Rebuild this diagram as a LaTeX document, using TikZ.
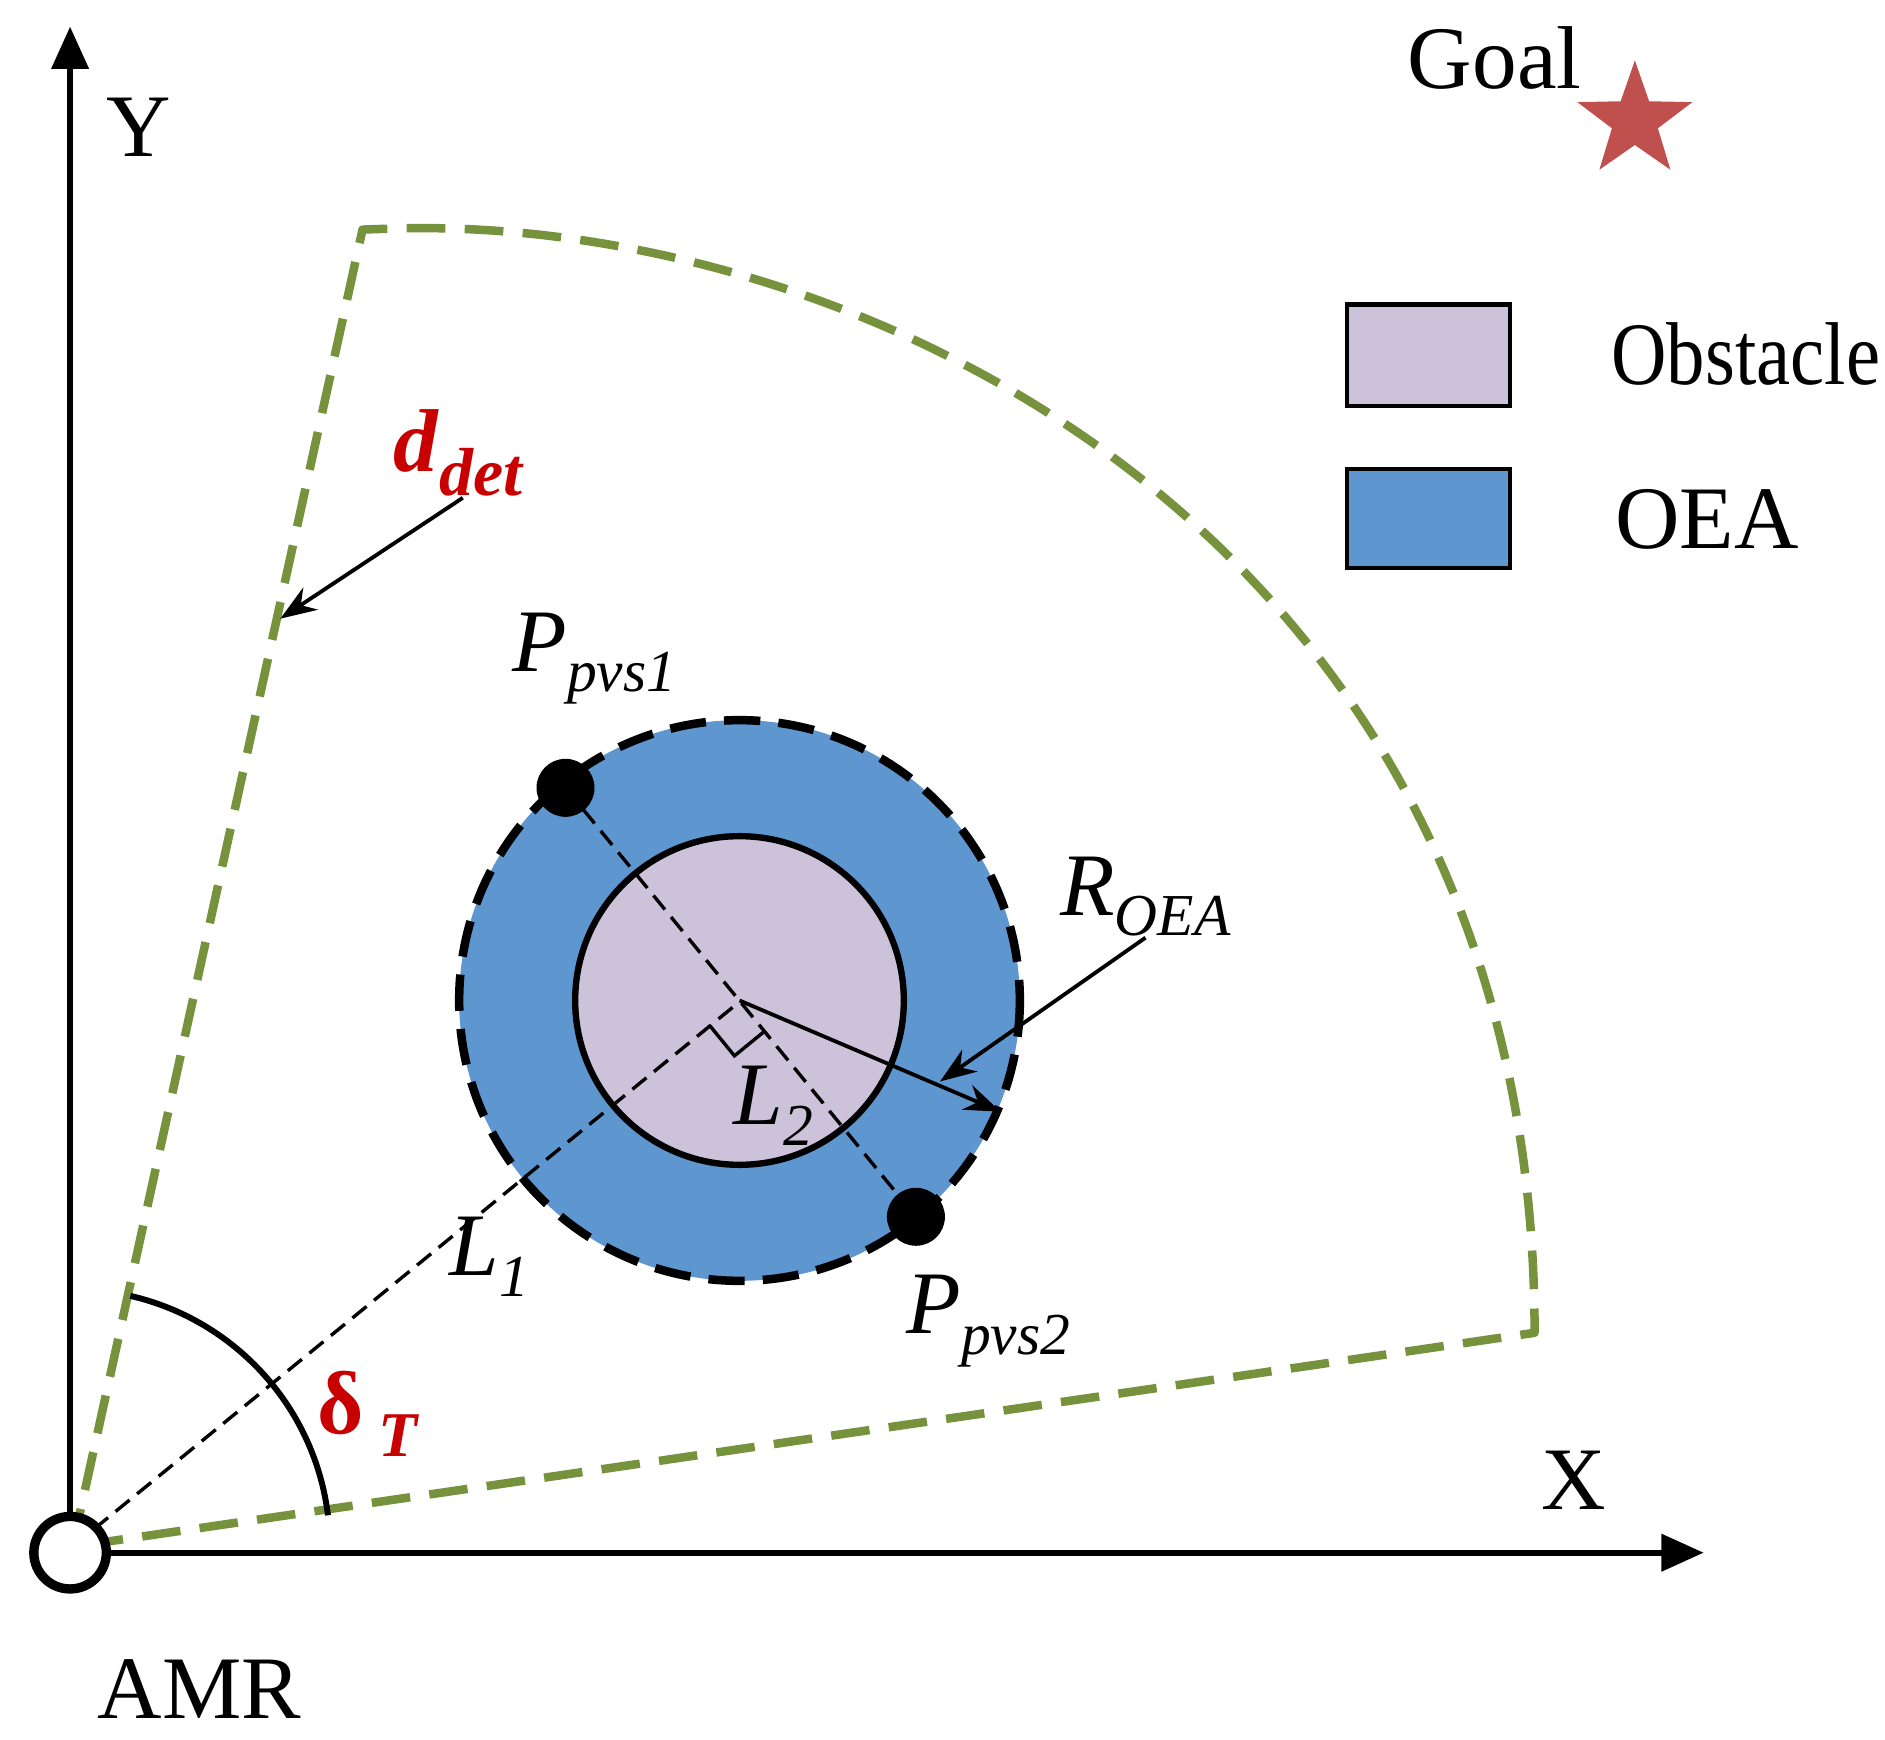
\documentclass[tikz,border=0pt]{standalone}
\usepackage{fontspec}
\setmainfont{Liberation Serif}
\usetikzlibrary{arrows.meta,calc,shapes.geometric}
\definecolor{gr}{RGB}{118,146,60}
\definecolor{oea}{RGB}{94,150,208}
\definecolor{obs}{RGB}{204,194,218}
\definecolor{stc}{RGB}{192,80,77}
\definecolor{rd}{RGB}{200,0,0}
\newcommand{\mysb}[2]{\textit{#1}{\fontsize{14}{14}\selectfont\raisebox{-0.35em}{\textit{#2}}}}
\begin{document}
\begin{tikzpicture}[x=0.01cm,y=-0.01cm,
  lbl/.style={font=\fontsize{21}{25}\selectfont, inner sep=0},
  thin dash/.style={line width=0.8pt, dash pattern=on 0.15cm off 0.08cm},
  ptr/.style={line width=0.9pt,-{Stealth[length=0.3cm,width=0.22cm]}}]
\useasboundingbox (0,0) rectangle (1560,1440);
% sector
\coordinate (o) at (60,1280);
\coordinate (c1) at (300,190);
\coordinate (c2) at (1270,1103);
\draw[gr, line width=2pt, dash pattern=on 0.32cm off 0.16cm, line join=round]
  (o) -- (c1) -- (330,189) .. controls (720,180) and (1270,450) .. (c2) -- cycle;
% OEA
\coordinate (cen) at (612,828);
\fill[oea] (cen) circle (232);
\draw[line width=2pt, dash pattern=on 0.3cm off 0.15cm] (cen) circle (232);
\draw[fill=obs, line width=1.5pt] (cen) circle (136);
% points and lines
\coordinate (p1) at (468,652);
\coordinate (p2) at (758,1007);
\coordinate (ft) at ($(p1)!(o)!(p2)$);
\draw[thin dash] (p1) -- (p2);
\draw[thin dash] (o) -- (ft);
\coordinate (sqa) at ($(ft)!0.32cm!(o)$);
\coordinate (sqb) at ($(ft)!0.32cm!(p2)$);
\draw[line width=0.8pt] (sqa) -- ($(sqa)+(sqb)-(ft)$) -- (sqb);
\fill (p1) circle (24);
\fill (p2) circle (24);
\draw[ptr] (cen) -- (828,920);
% axes
\draw[line width=1.5pt, -{Triangle[length=0.35cm,width=0.3cm]}] (58,1285) -- (58,22) coordinate (ytop);
\draw[line width=1.5pt, -{Triangle[length=0.35cm,width=0.3cm]}] (58,1285) -- (1410,1285) coordinate (xend);
\draw[line width=2.2pt, fill=white] (58,1285) circle (30);
% angle
\draw[line width=1.4pt] (o) ++(-7:213) arc[start angle=-7, end angle=-77, radius=213];
% labels
\node[lbl] (Y) at (115,105) {Y};
\node[lbl] (X) at (1302,1225) {X};
\node[lbl] (AMR) at (165,1398) {AMR};
\node[lbl] (goal) at (1237,48) {Goal};
\node[star, star points=5, star point ratio=2.5, fill=stc, minimum size=1.0cm, inner sep=0] (star) at (1353,100) {};
\node[draw, fill=obs, line width=1pt, minimum width=1.35cm, minimum height=0.84cm, inner sep=0] (lo) at (1182,294) {};
\node[draw, fill=oea, line width=1pt, minimum width=1.35cm, minimum height=0.82cm, inner sep=0] (le) at (1182,429) {};
\node[lbl, anchor=west] (to) at (1333,293) {\scalebox{0.86}[1]{Obstacle}};
\node[lbl, anchor=west] (te) at (1336,430) {OEA};
\node[lbl, text=rd] (dd) at (380,375) {\textbf{\textit{d}}{\fontsize{16}{16}\selectfont\raisebox{-0.35em}{\textbf{\textit{det}}}}};
\coordinate (dda) at (383,412);
\draw[ptr] (dda) -- (232,512);
\node[lbl] (p1l) at (492,545) {\mysb{P}{pvs1}};
\node[lbl] (p2l) at (818,1093) {\mysb{P}{pvs2}};
\node[lbl] (rl) at (948,742) {\mysb{R}{OEA}};
\coordinate (ra) at (948,776);
\draw[ptr] (ra) -- (778,895);
\node[lbl] (l1) at (405,1040) {\mysb{L}{1}};
\node[lbl] (l2) at (640,915) {\mysb{L}{2}};
\node[lbl, text=rd] (dl) at (305,1170) {\textbf{δ}\,{\fontsize{15}{15}\selectfont\raisebox{-0.35em}{\textbf{\textit{T}}}}};
\end{tikzpicture}
\end{document}
